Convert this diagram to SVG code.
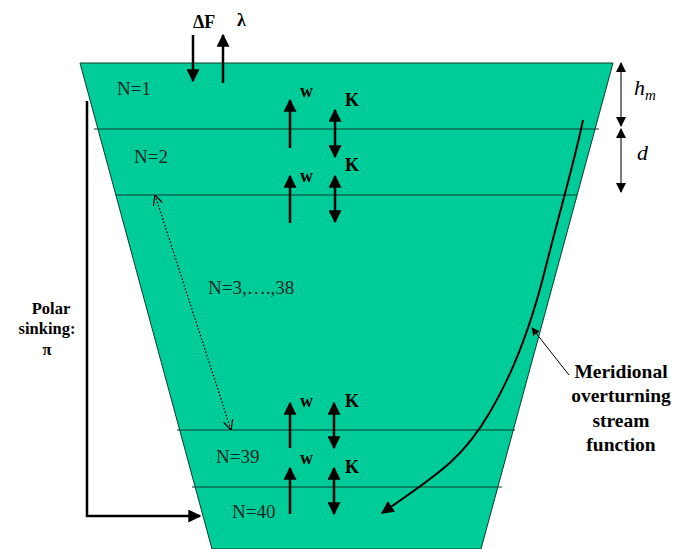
<svg xmlns="http://www.w3.org/2000/svg" width="674" height="549" viewBox="0 0 674 549">
<defs>
<marker id="ah" viewBox="0 0 10 10" refX="9" refY="5" markerWidth="8" markerHeight="8" markerUnits="userSpaceOnUse" orient="auto-start-reverse"><path d="M0,0 L10,5 L0,10 z" fill="#000"/></marker>
<marker id="ahb" viewBox="0 0 10 10" refX="9" refY="5" markerWidth="13" markerHeight="13" markerUnits="userSpaceOnUse" orient="auto-start-reverse"><path d="M0,0 L10,5 L0,10 z" fill="#000"/></marker>
<marker id="ahg" viewBox="0 0 10 10" refX="9" refY="5" markerWidth="10" markerHeight="10" markerUnits="userSpaceOnUse" orient="auto-start-reverse"><path d="M0,0 L10,5 L0,10 z" fill="#000"/></marker>
<marker id="open" viewBox="0 0 10 10" refX="10" refY="5" markerWidth="10" markerHeight="10" markerUnits="userSpaceOnUse" orient="auto-start-reverse"><path d="M0,0 L10,5 L0,10" fill="none" stroke="#000" stroke-width="1.2"/></marker>
</defs>
<style>
text{font-family:"Liberation Serif","Times New Roman","DejaVu Serif",serif}
.n{font-size:19px;fill:#0b2a20}
.b{font-size:18px;font-weight:bold;fill:#000}
.pl{font-size:16.5px;font-weight:bold;fill:#000}
.bl{font-size:19.5px;font-weight:bold;fill:#000}
.it{font-size:22px;font-style:italic;fill:#000}
.layer{stroke:#0d3b2c;stroke-width:1.2}
.arr{stroke:#000;stroke-width:2.5;fill:none}
</style>
<rect width="674" height="549" fill="#fff"/>
<g id="basin">
<polygon points="80,63 613,63 481,549 212,549" fill="#00CC99" stroke="#0d3b2c" stroke-width="1"/>
<line class="layer" x1="94" y1="129" x2="599" y2="129"/>
<line class="layer" x1="116" y1="195" x2="577" y2="195"/>
<line class="layer" x1="177" y1="430" x2="515" y2="430"/>
<line class="layer" x1="192" y1="487" x2="502" y2="487"/>
</g>
<g id="labels">
<text class="n" x="117" y="95">N=1</text>
<text class="n" x="134" y="163">N=2</text>
<text class="n" x="208" y="294">N=3,….,38</text>
<text class="n" x="216" y="463">N=39</text>
<text class="n" x="232" y="518">N=40</text>
</g>
<g id="surface-flux">
<text class="b" x="193" y="28">ΔF</text>
<text class="b" x="237" y="26">λ</text>
</g>
<g id="vertical-exchange">
<text class="b" x="300" y="97">w</text>
<text class="b" x="345" y="106">K</text>
<text class="b" x="300" y="182">w</text>
<text class="b" x="345" y="171">K</text>
<text class="b" x="300" y="407">w</text>
<text class="b" x="345" y="407">K</text>
<text class="b" x="300" y="464">w</text>
<text class="b" x="345" y="473">K</text>
</g>
<g id="dimensions">
<text class="it" x="634" y="95">h<tspan font-size="15" dy="5">m</tspan></text>
<text class="it" x="637" y="160">d</text>
</g>
<g id="polar-sinking">
<text class="pl" x="51" y="314" text-anchor="middle">Polar</text>
<text class="pl" x="47" y="334" text-anchor="middle">sinking:</text>
<text class="pl" x="47" y="355" text-anchor="middle">π</text>
</g>
<g id="moc">
<text class="bl" x="621" y="378" text-anchor="middle">Meridional</text>
<text class="bl" x="621" y="402" text-anchor="middle">overturning</text>
<text class="bl" x="621" y="427" text-anchor="middle">stream</text>
<text class="bl" x="621" y="451" text-anchor="middle">function</text>
</g>
<g id="connectors">
<line class="arr" x1="193" y1="35" x2="193" y2="81" marker-end="url(#ahb)"/>
<line class="arr" x1="223" y1="83" x2="223" y2="35" marker-end="url(#ahb)"/>
<line class="arr" x1="290" y1="148" x2="290" y2="100" marker-end="url(#ahb)"/>
<line class="arr" x1="335" y1="110" x2="335" y2="157" marker-start="url(#ahb)" marker-end="url(#ahb)"/>
<line class="arr" x1="290" y1="223" x2="290" y2="176" marker-end="url(#ahb)"/>
<line class="arr" x1="335" y1="176" x2="335" y2="222" marker-start="url(#ahb)" marker-end="url(#ahb)"/>
<line class="arr" x1="290" y1="448" x2="290" y2="403" marker-end="url(#ahb)"/>
<line class="arr" x1="334" y1="403" x2="334" y2="448" marker-start="url(#ahb)" marker-end="url(#ahb)"/>
<line class="arr" x1="290" y1="514" x2="290" y2="468" marker-end="url(#ahb)"/>
<line class="arr" x1="334" y1="468" x2="334" y2="514" marker-start="url(#ahb)" marker-end="url(#ahb)"/>
<line x1="155" y1="195" x2="231" y2="430" stroke="#000" stroke-width="1.3" stroke-dasharray="1.5,2" marker-start="url(#open)" marker-end="url(#open)"/>
<path d="M87,101 V516 H200" class="arr" marker-end="url(#ahb)"/>
<line x1="621" y1="63" x2="621" y2="126" stroke="#333" stroke-width="1.3" marker-start="url(#ahg)" marker-end="url(#ahg)"/>
<line x1="621" y1="129" x2="621" y2="192" stroke="#333" stroke-width="1.3" marker-start="url(#ahg)" marker-end="url(#ahg)"/>
<path d="M583,120 C575,160 560,210 545,270 C530,330 512,375 490,412 C465,455 445,470 382,513" stroke="#000" stroke-width="2" fill="none" marker-end="url(#ahb)"/>
<line x1="569" y1="375" x2="532" y2="328" stroke="#000" stroke-width="1" marker-end="url(#ah)"/>
</g>
</svg>
